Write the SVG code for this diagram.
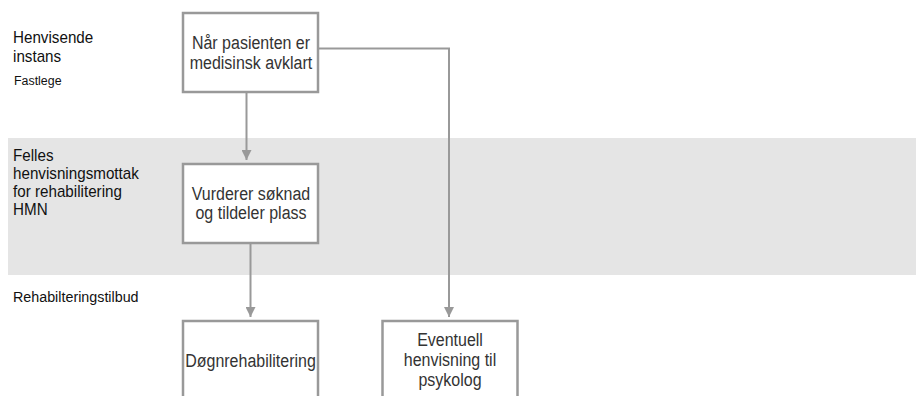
<svg xmlns="http://www.w3.org/2000/svg" width="916" height="396" viewBox="0 0 916 396">
<style>
.box{fill:#fff;stroke:#999;stroke-width:2.5}
.bt{font-family:"Liberation Sans",Arial,sans-serif;font-size:16px;fill:#333;text-anchor:middle}
.lbl{font-family:"Liberation Sans",Arial,sans-serif;font-size:15.2px;fill:#111}
.con{fill:none;stroke:#999;stroke-width:2}
</style>
<defs>
<marker id="ah" viewBox="0 0 10 10" refX="10" refY="5" markerWidth="10" markerHeight="10" markerUnits="userSpaceOnUse" orient="auto">
<path d="M0,0 L10,5 L0,10 z" fill="#999"/>
</marker>
</defs>
<rect id="band" x="8" y="138" width="908" height="137" fill="#e5e5e5"/>
<g id="lane-labels">
<text class="lbl" transform="translate(13,42.5) scale(1,1.05)">Henvisende</text>
<text class="lbl" transform="translate(13,61.5) scale(1,1.05)">instans</text>
<text class="lbl" transform="translate(14,85) scale(1,1.05)" style="font-size:12.4px">Fastlege</text>
<text class="lbl" transform="translate(13,161) scale(1,1.05)">Felles</text>
<text class="lbl" transform="translate(13,179) scale(1,1.05)">henvisningsmottak</text>
<text class="lbl" transform="translate(13,197) scale(1,1.05)">for rehabilitering</text>
<text class="lbl" transform="translate(13,215) scale(1,1.05)">HMN</text>
<text class="lbl" transform="translate(13,302.3) scale(1,1.05)" style="font-size:14.3px">Rehabilteringstilbud</text>
</g>
<g id="connectors">
<path class="con" d="M246.5,92 V160" marker-end="url(#ah)"/>
<path class="con" d="M250.5,244 V317" marker-end="url(#ah)"/>
<path class="con" d="M319,48.5 H449 V317" marker-end="url(#ah)"/>
</g>
<g id="n1">
<rect class="box" x="183" y="13" width="135" height="79"/>
<text class="bt" transform="translate(251,48.5) scale(1,1.1)">Når pasienten er</text>
<text class="bt" transform="translate(251,68.5) scale(1,1.1)">medisinsk avklart</text>
</g>
<g id="n2">
<rect class="box" x="183" y="164" width="135" height="79"/>
<text class="bt" transform="translate(251,199.5) scale(1,1.1)">Vurderer søknad</text>
<text class="bt" transform="translate(251,219) scale(1,1.1)">og tildeler plass</text>
</g>
<g id="n3">
<rect class="box" x="183" y="321" width="135" height="79"/>
<text class="bt" transform="translate(250.5,366.5) scale(1,1.1)">Døgnrehabilitering</text>
</g>
<g id="n4">
<rect class="box" x="382.5" y="321" width="135" height="79"/>
<text class="bt" transform="translate(450,346) scale(1,1.1)">Eventuell</text>
<text class="bt" transform="translate(450,366) scale(1,1.1)">henvisning til</text>
<text class="bt" transform="translate(450,386) scale(1,1.1)">psykolog</text>
</g>
</svg>
